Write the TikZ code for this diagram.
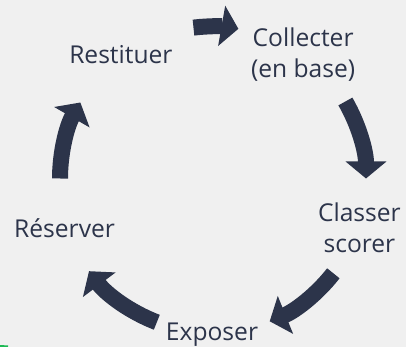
\documentclass[tikz,border=0pt]{standalone}
\usepackage{fontspec}
\setmainfont{Open Sans}
\usetikzlibrary{arrows.meta}
\definecolor{navy}{HTML}{2C344A}
\definecolor{bggray}{HTML}{F0F0F0}
\definecolor{stray}{HTML}{1DB954}
\begin{document}
\begin{tikzpicture}
  [x=1pt,y=1pt,
   every node/.style={text=navy,font=\fontsize{24.6}{30.5}\selectfont,align=center,inner sep=0pt,yshift=-1.5pt},
   cyclearrow/.style={draw=navy,line width=16pt,-{Triangle[length=17pt,width=40pt]}}]
  \fill[bggray] (0,0) rectangle (406,347);
  \useasboundingbox (0,0) rectangle (406,347);
  \coordinate (c) at (212,170);
  \node (rest) at ([shift={(126:155)}]c) {Restituer};
  \node (coll) at ([shift={(54:155)}]c) {Collecter\\(en base)};
  \node (clas) at ([shift={(-18:155)}]c) {Classer\\scorer};
  \node (expo) at ([shift={(-90:155)}]c) {Exposer};
  \node (rese) at ([shift={(-162:155)}]c) {Réserver};
  % arrows between the steps
  \draw[cyclearrow] ([shift={(97:152)}]c) arc[start angle=97,end angle=80,radius=152];
  \draw[cyclearrow] ([shift={(30:154)}]c) arc[start angle=30,end angle=0,radius=154];
  \draw[cyclearrow] ([shift={(-38:154)}]c) arc[start angle=-38,end angle=-68,radius=154];
  \draw[cyclearrow] ([shift={(-111:154)}]c) arc[start angle=-111,end angle=-143,radius=154];
  \draw[cyclearrow] ([shift={(180:152)}]c) arc[start angle=180,end angle=150,radius=152];
  \draw[stray,line width=2pt] (0,1) -- (8,0.5);
\end{tikzpicture}
\end{document}
